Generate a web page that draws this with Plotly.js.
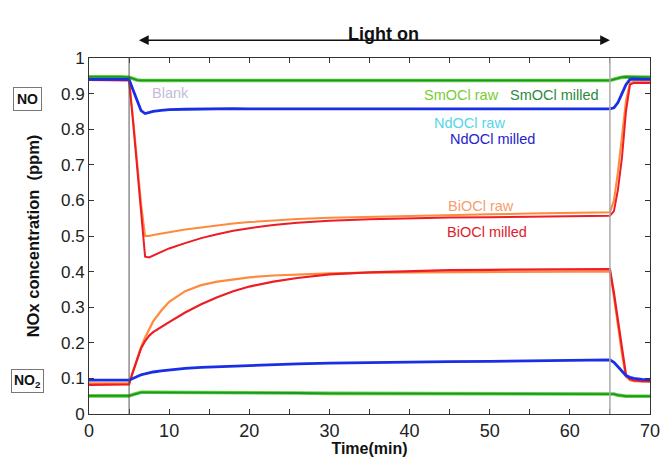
<!DOCTYPE html>
<html><head><meta charset="utf-8">
<script src="https://cdn.plot.ly/plotly-3.0.1.min.js"></script>
<style>body{margin:0;background:#fff}#plot{width:660px;height:457px}</style>
</head><body><div id="plot"></div>
<script>
// time (min)
var time = [0,2,4,5,5.5,6,6.5,7,7.5,8,9,10,12,14,16,18,20,23,26,30,35,40,45,50,55,60,63,65,65.5,66,66.5,67,67.5,68,69,70];

// NO signal (ppm)
var smNO     = [0.947,0.948,0.947,0.946,0.942,0.938,0.937,0.937,0.937,0.937,0.937,0.937,0.938,0.937,0.938,0.937,0.938,0.938,0.937,0.938,0.938,0.937,0.938,0.938,0.937,0.938,0.937,0.937,0.940,0.944,0.946,0.947,0.947,0.946,0.947,0.946];
var ndNO     = [0.940,0.940,0.940,0.940,0.910,0.880,0.852,0.844,0.847,0.850,0.853,0.855,0.856,0.857,0.857,0.858,0.857,0.857,0.858,0.857,0.857,0.858,0.857,0.856,0.857,0.856,0.856,0.857,0.860,0.875,0.900,0.925,0.940,0.941,0.940,0.940];
var biRawNO  = [0.939,0.939,0.939,0.938,0.830,0.710,0.590,0.500,0.500,0.503,0.507,0.511,0.518,0.524,0.530,0.535,0.539,0.544,0.548,0.551,0.554,0.557,0.559,0.561,0.563,0.565,0.566,0.567,0.600,0.680,0.780,0.880,0.930,0.933,0.934,0.934];
var biMilNO  = [0.938,0.938,0.938,0.937,0.820,0.690,0.560,0.442,0.440,0.445,0.455,0.465,0.480,0.494,0.505,0.515,0.522,0.531,0.537,0.543,0.547,0.550,0.552,0.553,0.554,0.555,0.556,0.557,0.570,0.630,0.720,0.850,0.925,0.930,0.930,0.930];

// NO2 signal (ppm)
var smNO2    = [0.051,0.050,0.051,0.051,0.055,0.059,0.061,0.061,0.061,0.060,0.060,0.060,0.060,0.059,0.060,0.059,0.059,0.059,0.059,0.058,0.058,0.058,0.058,0.058,0.058,0.058,0.058,0.058,0.056,0.053,0.051,0.050,0.050,0.050,0.050,0.050];
var ndNO2    = [0.095,0.094,0.095,0.095,0.100,0.106,0.110,0.113,0.116,0.118,0.121,0.124,0.128,0.131,0.133,0.135,0.137,0.139,0.141,0.143,0.145,0.146,0.147,0.148,0.149,0.150,0.151,0.152,0.145,0.132,0.118,0.108,0.103,0.100,0.097,0.096];
var biRawNO2 = [0.086,0.087,0.086,0.087,0.120,0.155,0.188,0.215,0.240,0.260,0.290,0.315,0.345,0.362,0.372,0.379,0.384,0.389,0.392,0.395,0.397,0.398,0.399,0.400,0.400,0.400,0.400,0.400,0.330,0.250,0.170,0.105,0.095,0.092,0.091,0.090];
var biMilNO2 = [0.082,0.083,0.082,0.083,0.120,0.155,0.185,0.205,0.220,0.230,0.245,0.258,0.285,0.308,0.328,0.345,0.358,0.372,0.382,0.392,0.398,0.402,0.404,0.405,0.406,0.406,0.407,0.407,0.340,0.260,0.180,0.110,0.098,0.094,0.092,0.092];

var xTicks = [0,10,20,30,40,50,60,70];
var yTicks = [0,0.1,0.2,0.3,0.4,0.5,0.6,0.7,0.8,0.9,1];

var C = {smRaw:'#5fcf3a', smMil:'#1d9628', nd:'#1a2ee6', biRaw:'#ff8a3c', biMil:'#ee1c24'};

function tr(y, color, w){
  return {x: time, y: y, type:'scatter', mode:'lines', line:{color:color, width:w}, hoverinfo:'skip', showlegend:false};
}
var data = [
  tr(biRawNO, C.biRaw, 2), tr(biMilNO, C.biMil, 2),
  tr(biRawNO2, C.biRaw, 2.2), tr(biMilNO2, C.biMil, 2.2),
  tr(smNO, C.smRaw, 3.6), tr(smNO, C.smMil, 1.8),
  tr(smNO2, C.smRaw, 3.6), tr(smNO2, C.smMil, 1.8),
  tr(ndNO, C.nd, 2.8), tr(ndNO2, C.nd, 2.8)
];

var F = 'Liberation Sans, Arial, sans-serif';
function lab(text, x, y, color){
  return {text:text, x:x, y:y, xref:'x', yref:'y', showarrow:false, font:{family:F, size:14.5, color:color}};
}
var layout = {
  width:660, height:457,
  margin:{l:89, r:10, t:58, b:43},
  paper_bgcolor:'#fff', plot_bgcolor:'#fff',
  font:{family:F, color:'#222'},
  xaxis:{range:[0,70], tickvals:xTicks, ticks:'inside', ticklen:5, tickcolor:'#333', ticklabeloverflow:'allow',
    minor:{dtick:5, tick0:0, ticks:'inside', ticklen:5, tickcolor:'#333', showgrid:false},
    showline:true, linecolor:'#333', linewidth:1, mirror:'allticks', showgrid:false, zeroline:false,
    tickfont:{size:18, color:'#222'},
    title:{text:'<b>Time(min)</b>', font:{size:16, color:'#111'}, standoff:0}},
  yaxis:{range:[0,1], tickvals:yTicks, ticktext:yTicks.map(String), ticks:'inside', ticklen:5, tickcolor:'#333',
    showline:true, linecolor:'#333', linewidth:1, mirror:'allticks', showgrid:false, zeroline:false,
    tickfont:{size:17, color:'#222'},
    title:{text:'<b>NOx concentration  (ppm)</b>', font:{size:16.5, color:'#111'}, standoff:17}},
  shapes:[
    {type:'line', xref:'x', yref:'paper', x0:5, x1:5, y0:0, y1:1, line:{color:'#555', width:1}},
    {type:'line', xref:'x', yref:'paper', x0:65, x1:65, y0:0, y1:1, line:{color:'#aaa', width:1.5}}
  ],
  annotations:[
    {text:'<b>Light on</b>', x:36.8, y:1.101, xref:'x', yref:'paper', showarrow:false, font:{size:18, color:'#111'}},
    {text:' ', x:65, y:1.05, xref:'x', yref:'paper', showarrow:true, axref:'pixel', ayref:'pixel', ax:-474, ay:0,
      arrowside:'end+start', arrowhead:2, arrowsize:1.3, arrowwidth:1.5, arrowcolor:'#111', standoff:0, startstandoff:0},
    {text:'<b>NO</b>', x:-0.1105, y:0.885, xref:'paper', yref:'y', xanchor:'center', yanchor:'middle', showarrow:false, font:{size:14, color:'#111'},
      bordercolor:'#777', borderwidth:1, borderpad:3, bgcolor:'#fff'},
    {text:'<b>NO<sub>2</sub></b>', x:-0.1105, y:0.093, xref:'paper', yref:'y', xanchor:'center', yanchor:'middle', showarrow:false, font:{size:14, color:'#111'},
      bordercolor:'#777', borderwidth:1, borderpad:2, bgcolor:'#fff'},
    lab('Blank', 10.2, 0.902, '#c4bcd8'),
    lab('SmOCl raw', 46.5, 0.896, '#77cc33'),
    lab('SmOCl milled', 58.1, 0.896, '#2b8a3e'),
    lab('NdOCl raw', 47.5, 0.817, '#55d5ea'),
    lab('NdOCl milled', 50.3, 0.772, '#2424cc'),
    lab('BiOCl raw', 48.9, 0.584, '#f4a070'),
    lab('BiOCl milled', 49.7, 0.511, '#e0202a')
  ]
};
Plotly.newPlot('plot', data, layout, {displayModeBar:false, staticPlot:true});
</script></body></html>
